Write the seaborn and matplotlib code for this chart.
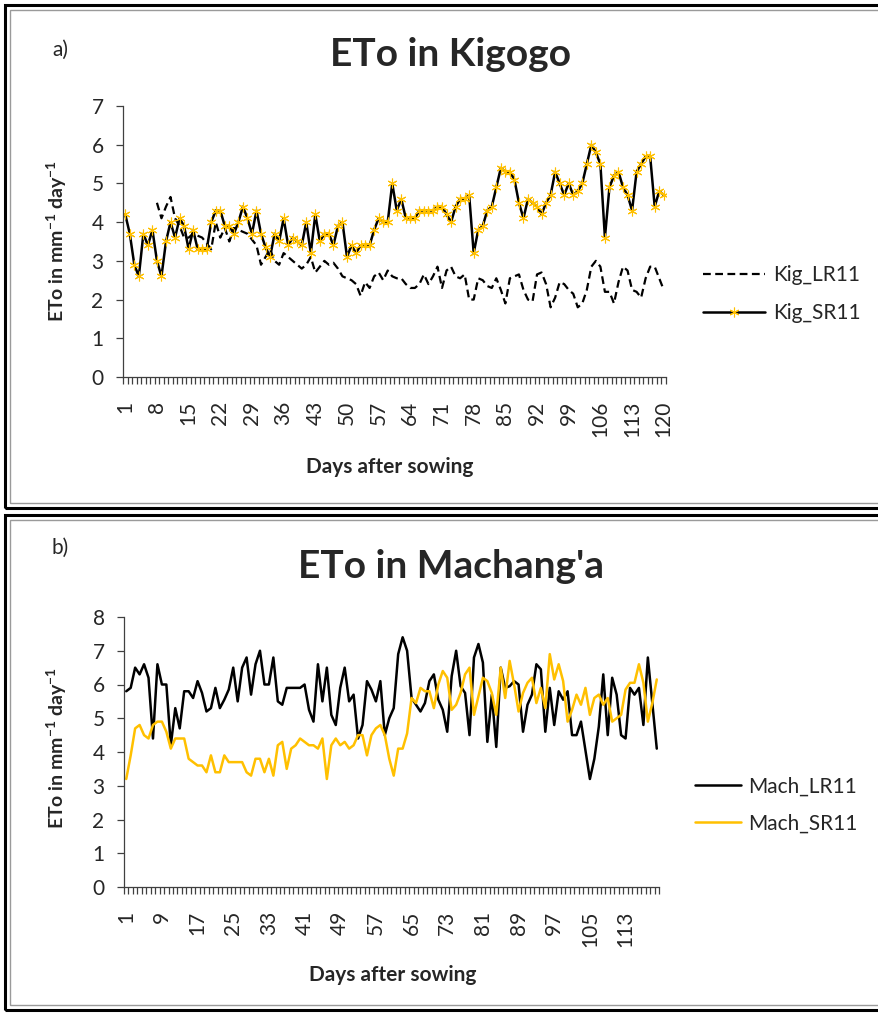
import numpy as np
import pandas as pd
import matplotlib
matplotlib.use("Agg")
import matplotlib.pyplot as plt
from matplotlib.patches import Rectangle
import seaborn as sns

# ---- data ----
days = list(range(1, 121))

kig_lr11 = [None, None, None, None, None, None, None, 4.5, 4.1, 4.4,
            4.65, 4.1, 3.9, 3.6, 3.6, 3.7, 3.65, 3.6, 3.45, 3.3,
            4.0, 3.6, 3.85, 3.5, 3.85, 3.8, 3.75, 3.7, 3.55, 3.4,
            2.9, 3.1, 3.3, 3.0, 2.9, 3.2, 3.1, 3.0, 2.9, 2.8,
            2.9, 3.1, 2.7, 2.85, 3.0, 2.9, 2.95, 2.8, 2.6, 2.55,
            2.5, 2.4, 2.1, 2.45, 2.3, 2.6, 2.7, 2.5, 2.75, 2.6,
            2.55, 2.55, 2.4, 2.3, 2.3, 2.4, 2.65, 2.4, 2.6, 2.85,
            2.3, 2.75, 2.85, 2.6, 2.55, 2.65, 2.0, 2.0, 2.55, 2.5,
            2.35, 2.3, 2.55, 2.25, 1.9, 2.55, 2.6, 2.65, 2.25, 2.0,
            1.95, 2.65, 2.7, 2.4, 1.8, 2.05, 2.45, 2.4, 2.25, 2.15,
            1.8, 1.9, 2.25, 2.85, 3.0, 2.85, 2.2, 2.2, 1.9, 2.45,
            2.85, 2.75, 2.25, 2.2, 2.05, 2.55, 2.85, 2.85, 2.55, 2.25]

kig_sr11 = [4.2, 3.7, 2.9, 2.6, 3.7, 3.4, 3.8, 3.0, 2.6, 3.5,
            4.0, 3.6, 4.1, 3.9, 3.3, 3.8, 3.3, 3.3, 3.3, 4.0,
            4.3, 4.3, 3.9, 3.9, 3.7, 4.0, 4.4, 4.1, 3.7, 4.3,
            3.7, 3.35, 3.1, 3.7, 3.5, 4.1, 3.4, 3.6, 3.5, 3.4,
            4.0, 3.2, 4.2, 3.5, 3.7, 3.7, 3.4, 3.9, 4.0, 3.1,
            3.4, 3.2, 3.4, 3.4, 3.4, 3.8, 4.1, 4.0, 4.0, 5.0,
            4.3, 4.6, 4.1, 4.1, 4.1, 4.3, 4.3, 4.3, 4.3, 4.4,
            4.4, 4.2, 4.0, 4.4, 4.6, 4.6, 4.7, 3.2, 3.8, 3.9,
            4.3, 4.4, 4.9, 5.4, 5.3, 5.3, 5.1, 4.5, 4.1, 4.6,
            4.5, 4.4, 4.2, 4.5, 4.7, 5.3, 5.0, 4.7, 5.0, 4.7,
            4.8, 5.0, 5.5, 6.0, 5.8, 5.5, 3.6, 4.9, 5.2, 5.3,
            4.9, 4.7, 4.3, 5.3, 5.5, 5.7, 5.7, 4.4, 4.8, 4.7]

mach_lr11 = [5.8, 5.9, 6.5, 6.3, 6.6, 6.2, 4.4, 6.6, 6.0, 6.0,
             4.2, 5.3, 4.7, 5.8, 5.8, 5.6, 6.1, 5.75, 5.2, 5.3,
             5.9, 5.3, 5.55, 5.85, 6.5, 5.5, 6.5, 6.8, 5.7, 6.6,
             7.0, 6.0, 6.0, 6.8, 5.5, 5.4, 5.9, 5.9, 5.9, 5.9,
             6.0, 5.25, 4.9, 6.6, 5.5, 6.5, 5.1, 4.8, 5.9, 6.5,
             5.5, 5.7, 4.4, 4.8, 6.1, 5.85, 5.5, 6.1, 4.5, 5.0,
             5.3, 6.9, 7.4, 7.0, 5.6, 5.4, 5.2, 5.45, 6.1, 6.3,
             5.55, 5.25, 4.6, 6.25, 7.0, 5.95, 5.75, 4.5, 6.8, 7.2,
             6.65, 4.3, 5.7, 4.15, 6.5, 5.9, 5.95, 6.1, 6.0, 4.6,
             5.4, 5.7, 6.6, 6.45, 4.6, 5.9, 4.8, 5.8, 5.55, 5.8,
             4.5, 4.5, 4.9, 4.05, 3.2, 3.8, 4.75, 6.3, 4.5, 6.2,
             5.7, 4.5, 4.4, 5.9, 5.7, 5.9, 4.8, 6.8, 5.45, 4.1]

mach_sr11 = [3.2, 3.9, 4.7, 4.8, 4.5, 4.4, 4.8, 4.9, 4.9, 4.6,
             4.1, 4.4, 4.4, 4.4, 3.8, 3.7, 3.6, 3.6, 3.4, 3.9,
             3.4, 3.4, 3.9, 3.7, 3.7, 3.7, 3.7, 3.4, 3.3, 3.8,
             3.8, 3.4, 3.8, 3.3, 4.2, 4.3, 3.5, 4.1, 4.2, 4.4,
             4.3, 4.2, 4.2, 4.1, 4.4, 3.2, 4.2, 4.4, 4.2, 4.3,
             4.1, 4.2, 4.5, 4.5, 3.9, 4.5, 4.7, 4.8, 4.5, 3.8,
             3.3, 4.1, 4.1, 4.55, 5.6, 5.45, 5.9, 5.8, 5.8, 5.3,
             6.0, 6.4, 6.2, 5.25, 5.4, 5.75, 6.3, 6.5, 5.1, 5.65,
             6.2, 6.1, 5.75, 5.1, 6.5, 5.6, 6.7, 6.0, 5.2, 5.75,
             6.05, 6.2, 5.45, 5.9, 5.3, 6.9, 6.15, 6.6, 6.1, 4.9,
             5.25, 5.7, 5.4, 5.9, 5.1, 5.6, 5.7, 5.4, 5.6, 4.9,
             5.0, 5.1, 5.85, 6.05, 6.05, 6.6, 6.05, 4.9, 5.45, 6.15]

top_ticks = list(range(1, 121, 7))
bottom_ticks = list(range(1, 121, 8))

kig = pd.DataFrame({"day": days, "Kig_LR11": kig_lr11, "Kig_SR11": kig_sr11}).astype(float)
mach = pd.DataFrame({"day": days, "Mach_LR11": mach_lr11, "Mach_SR11": mach_sr11}).astype(float)

# ---- style ----
sns.set_style("white")
plt.rcParams["font.family"] = ["Lato", "DejaVu Sans"]
plt.rcParams["mathtext.fontset"] = "custom"
plt.rcParams["mathtext.rm"] = "Lato:bold"
plt.rcParams["mathtext.default"] = "rm"

GOLD = "#FFC000"
W, H = 879, 1013

fig = plt.figure(figsize=(W / 100, H / 100), dpi=100)


def fx(px):
    return px / W


def fy(py):
    return 1 - py / H


# panel frames (double border like the Word figure boxes)
for top, bot in [(5, 508), (515, 1010)]:
    fig.add_artist(Rectangle((fx(5), fy(bot)), fx(1000), fy(top) - fy(bot),
                             transform=fig.transFigure, fill=False,
                             edgecolor="black", lw=2.2, clip_on=False))
    fig.add_artist(Rectangle((fx(10), fy(bot - 5)), fx(1000), fy(top + 5) - fy(bot - 5),
                             transform=fig.transFigure, fill=False,
                             edgecolor="#9a9a9a", lw=1.0, clip_on=False))

ax1 = fig.add_axes([fx(123), fy(377), fx(666 - 123), fy(106) - fy(377)])
ax2 = fig.add_axes([fx(124), fy(887), fx(659 - 124), fy(617) - fy(887)])

# top chart
sns.lineplot(data=kig, x="day", y="Kig_LR11", ax=ax1, color="black", lw=1.6,
             linestyle=(0, (3.5, 2)), label="Kig_LR11", estimator=None)
sns.lineplot(data=kig, x="day", y="Kig_SR11", ax=ax1, color="black", lw=1.8,
             marker=(6, 2, 0), markersize=7, markeredgecolor=GOLD,
             markerfacecolor=GOLD, markeredgewidth=0.8, label="Kig_SR11",
             estimator=None)

# bottom chart
sns.lineplot(data=mach, x="day", y="Mach_LR11", ax=ax2, color="black", lw=1.8,
             label="Mach_LR11", estimator=None)
sns.lineplot(data=mach, x="day", y="Mach_SR11", ax=ax2, color=GOLD, lw=1.8,
             label="Mach_SR11", estimator=None)

for ax, ymax, ticks in [(ax1, 7, top_ticks), (ax2, 8, bottom_ticks)]:
    ax.set_xlim(0.5, 120.5)
    ax.set_ylim(0, ymax)
    ax.set_yticks(range(0, ymax + 1))
    ax.set_xticks(ticks)
    ax.set_xticklabels([str(t) for t in ticks], rotation=90)
    ax.set_xticks(np.arange(0.5, 121, 1), minor=True)
    ax.tick_params(axis="x", which="major", length=0, pad=17, labelsize=15)
    ax.tick_params(axis="x", which="minor", length=5, width=0.9,
                   direction="out", color="#404040", bottom=True)
    ax.tick_params(axis="y", length=5, width=0.9, direction="out",
                   color="#404040", pad=9, labelsize=15, left=True)
    for s in ["top", "right"]:
        ax.spines[s].set_visible(False)
    for s in ["left", "bottom"]:
        ax.spines[s].set_color("#404040")
        ax.spines[s].set_linewidth(0.9)
    ax.set_xlabel("")
    ax.set_ylabel("")

# legends
leg1 = ax1.legend(loc="center left", bbox_to_anchor=(fx(703), fy(294)),
                  bbox_transform=fig.transFigure, frameon=False, fontsize=15,
                  handlelength=3.0, handletextpad=0.35, labelspacing=0.85,
                  borderpad=0, borderaxespad=0)
leg2 = ax2.legend(loc="center left", bbox_to_anchor=(fx(695), fy(805)),
                  bbox_transform=fig.transFigure, frameon=False, fontsize=15,
                  handlelength=2.2, handletextpad=0.35, labelspacing=0.8,
                  borderpad=0, borderaxespad=0)

# texts
fig.text(fx(451), fy(55), "ETo in Kigogo", ha="center", va="center",
         fontsize=28, fontweight="bold")
fig.text(fx(451), fy(567), "ETo in Machang'a", ha="center", va="center",
         fontsize=28, fontweight="bold")
fig.text(fx(52), fy(50), "a)", ha="left", va="center", fontsize=15)
fig.text(fx(52), fy(548), "b)", ha="left", va="center", fontsize=15)

ylab = "ETo in mm$^{-1}$ day$^{-1}$"
fig.text(fx(57), fy(241), ylab, rotation=90, ha="center", va="center",
         fontsize=14, fontweight="bold")
fig.text(fx(57), fy(748), ylab, rotation=90, ha="center", va="center",
         fontsize=14, fontweight="bold")
fig.text(fx(390), fy(467), "Days after sowing", ha="center", va="center",
         fontsize=15, fontweight="bold")
fig.text(fx(393), fy(975), "Days after sowing", ha="center", va="center",
         fontsize=15, fontweight="bold")

fig.savefig("out.png", dpi=100)
